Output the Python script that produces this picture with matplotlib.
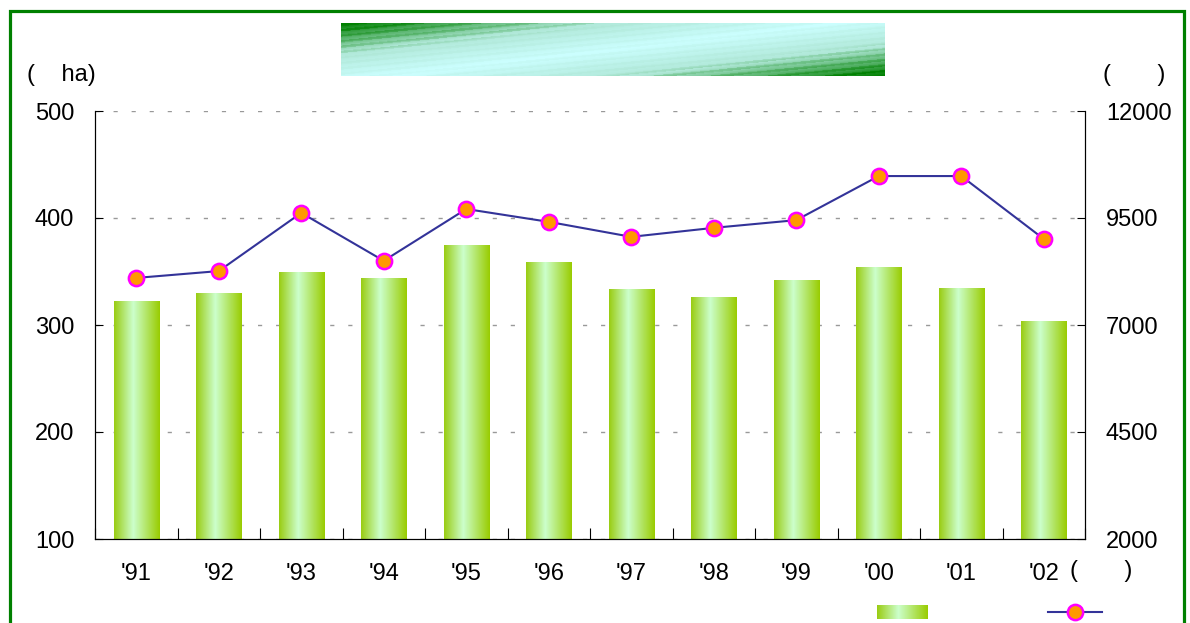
import numpy as np
import matplotlib.pyplot as plt
from matplotlib.colors import LinearSegmentedColormap
from matplotlib.patches import Rectangle
from matplotlib.lines import Line2D

plt.rcParams['font.family'] = ['Liberation Sans', 'DejaVu Sans']
plt.rcParams['font.size'] = 17

# datos
anios = ["'91", "'92", "'93", "'94", "'95", "'96", "'97", "'98", "'99", "'00", "'01", "'02"]
superficie_ha = [322, 330, 350, 344, 375, 359, 334, 326, 342, 354, 335, 304]
valores_derecha = [8100, 8260, 9620, 8500, 9710, 9410, 9060, 9270, 9450, 10480, 10480, 9010]

fig = plt.figure(figsize=(11.9, 6.23), dpi=100)
ax = fig.add_axes([95 / 1190, 1 - 539 / 623, 990 / 1190, 428 / 623])
ax2 = ax.twinx()

ymin = 100
# barras con degradado
cmap_barra = LinearSegmentedColormap.from_list(
    'barra', [(0, '#99cc11'), (0.42, '#ccffcc'), (1, '#99cc00')])
grad = np.linspace(0, 1, 256).reshape(1, -1)
x = np.arange(len(anios))
barras = ax.bar(x, np.array(superficie_ha) - ymin, width=0.55, bottom=ymin,
                color='none', zorder=2)
for b in barras:
    bx, by = b.get_x(), b.get_y()
    im = ax.imshow(grad, cmap=cmap_barra, aspect='auto', zorder=2,
                   extent=[bx, bx + b.get_width(), by, by + b.get_height()])
    im.set_clip_path(b)

ax.set_xlim(-0.5, len(anios) - 0.5)
ax.set_ylim(ymin, 500)
ax.set_yticks([100, 200, 300, 400, 500])
ax.set_xticks(x)
ax.set_xticklabels(anios)
ax.set_xticks(np.arange(-0.5, len(anios)), minor=True)
ax.tick_params(axis='x', which='major', length=0, pad=17)
ax.tick_params(axis='x', which='minor', direction='in', length=8, width=0.8)
ax.tick_params(axis='y', direction='in', length=6, width=0.8, pad=15)
ax.grid(axis='y', color='#999999', linestyle=(0, (3, 10)), linewidth=1, zorder=0)
ax.spines['top'].set_visible(False)

# linea
ax2.plot(x, valores_derecha, color='#333399', linewidth=1.5, marker='o',
         markersize=11, markerfacecolor='#ff9900', markeredgecolor='#ff00ff',
         markeredgewidth=1.8, zorder=3)
ax2.set_ylim(2000, 12000)
ax2.set_yticks([2000, 4500, 7000, 9500, 12000])
ax2.tick_params(axis='y', direction='in', length=6, width=0.8, pad=15)
ax2.spines['top'].set_visible(False)

# etiquetas de unidades
fig.text(27 / 1190, 1 - 75 / 623, '(    ha)', va='center', ha='left')
fig.text(1103 / 1190, 1 - 75 / 623, '(       )', va='center', ha='left')
fig.text(1070 / 1190, 1 - 571 / 623, '(       )', va='center', ha='left')

# caja del titulo con degradado
ax_t = fig.add_axes([341 / 1190, 1 - 76 / 623, 544 / 1190, 53 / 623])
tt, ss = np.meshgrid(np.linspace(0, 1, 400), np.linspace(0, 1, 60))
d = np.abs(tt * 1.1 + ss * 0.9 - 1.0)
d = d + 0.08 * (np.sin(ss * 60 + tt * 60) > 0.3)
cmap_tit = LinearSegmentedColormap.from_list('tit', ['#ccffff', '#b0e8d8', '#008000'])
ax_t.imshow(np.clip(d, 0, 1), cmap=cmap_tit, aspect='auto', vmin=0, vmax=1)
ax_t.axis('off')
ax_t.text(0.5, 0.5, ' ', transform=ax_t.transAxes)

# leyenda
ax_l = fig.add_axes([877 / 1190, 1 - 619 / 623, 51 / 1190, 14 / 623])
ax_l.imshow(grad, cmap=cmap_barra, aspect='auto')
ax_l.axis('off')
fig.lines.append(Line2D([1048 / 1190, 1102 / 1190], [1 - 612 / 623] * 2,
                        transform=fig.transFigure, color='#333399', linewidth=1.5))
fig.lines.append(Line2D([1075 / 1190], [1 - 612 / 623], transform=fig.transFigure,
                        marker='o', markersize=11, markerfacecolor='#ff9900',
                        markeredgecolor='#ff00ff', markeredgewidth=1.8))

# marco verde
fig.patches.append(Rectangle((9.5 / 1190, -0.1), (1184 - 9.5) / 1190, 1.1 - 11 / 623,
                             transform=fig.transFigure, fill=False,
                             edgecolor='#008000', linewidth=2.3))

fig.savefig('out.png', dpi=100)
